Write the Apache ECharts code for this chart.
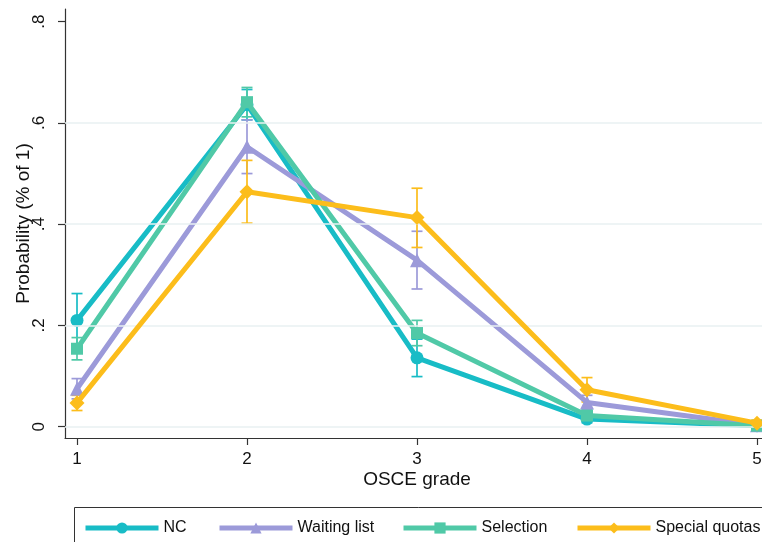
<!DOCTYPE html>
<html>
<head>
<meta charset="utf-8">
<script src="https://cdn.jsdelivr.net/npm/echarts@6/dist/echarts.min.js"></script>
<style>
html, body { margin: 0; padding: 0; background: #fff; }
#chart { width: 762px; height: 542px; }
</style>
</head>
<body>
<div id="chart"></div>
<script>
// OSCE grades on the x axis
const grades = [1, 2, 3, 4, 5]
const yTicks = [0, 0.2, 0.4, 0.6, 0.8]
const gridValues = [0, 0.2, 0.4, 0.6]

// predicted probabilities per group
const ncVals = [0.210, 0.636, 0.136, 0.015, 0.002]
const waitVals = [0.075, 0.553, 0.329, 0.048, 0.003]
const selVals = [0.154, 0.641, 0.185, 0.022, 0.002]
const specVals = [0.047, 0.464, 0.413, 0.073, 0.007]

// confidence intervals (lower / upper)
const ncLo = [0.157, 0.606, 0.099, 0.008, 0.000]
const ncHi = [0.263, 0.666, 0.173, 0.022, 0.004]
const waitLo = [0.055, 0.500, 0.272, 0.034, 0.000]
const waitHi = [0.095, 0.606, 0.386, 0.062, 0.006]
const selLo = [0.132, 0.612, 0.160, 0.014, 0.000]
const selHi = [0.176, 0.670, 0.210, 0.030, 0.004]
const specLo = [0.032, 0.402, 0.354, 0.049, 0.001]
const specHi = [0.062, 0.526, 0.471, 0.097, 0.013]

const groups = [
    { name: 'NC', vals: ncVals, lo: ncLo, hi: ncHi, color: '#18bcc6', symbol: 'circle', size: 13 },
    { name: 'Waiting list', vals: waitVals, lo: waitLo, hi: waitHi, color: '#9c9ad9', symbol: 'triangle', size: 14 },
    { name: 'Selection', vals: selVals, lo: selLo, hi: selHi, color: '#50c9a7', symbol: 'rect', size: 12 },
    { name: 'Special quotas', vals: specVals, lo: specLo, hi: specHi, color: '#fcbd1b', symbol: 'diamond', size: 15 },
]

const font = 'Liberation Sans, Arial, Helvetica, sans-serif'

const chart = echarts.init(document.getElementById('chart'))

// error bars drawn through the axis scales
const errorSeries = groups.map(g => ({
    type: 'custom',
    name: g.name + ' CI',
    z: 1,
    silent: true,
    data: grades.map((x, i) => [x, g.lo[i], g.hi[i]]),
    renderItem: (params, api) => {
        const top = api.coord([api.value(0), api.value(2)])
        const bot = api.coord([api.value(0), api.value(1)])
        const w = 5.5
        const style = { stroke: g.color, lineWidth: 1.7 }
        return {
            type: 'group',
            children: [
                { type: 'line', shape: { x1: top[0], y1: top[1], x2: bot[0], y2: bot[1] }, style },
                { type: 'line', shape: { x1: top[0] - w, y1: top[1], x2: top[0] + w, y2: top[1] }, style },
                { type: 'line', shape: { x1: bot[0] - w, y1: bot[1], x2: bot[0] + w, y2: bot[1] }, style },
            ]
        }
    }
}))

const lineSeries = groups.map((g, k) => ({
    type: 'line',
    name: g.name,
    z: 2 + k,
    data: grades.map((x, i) => [x, g.vals[i]]),
    symbol: g.symbol,
    symbolSize: g.size,
    showSymbol: true,
    itemStyle: { color: g.color },
    lineStyle: { color: g.color, width: 5 },
    emphasis: { disabled: true },
}))

// gridlines
const gridSeries = {
    type: 'line',
    name: 'grid',
    data: [],
    z: 0,
    silent: true,
    markLine: {
        silent: true,
        symbol: 'none',
        label: { show: false },
        lineStyle: { color: '#e9f0f2', width: 1.5, type: 'solid' },
        data: gridValues.map(v => ({ yAxis: v })),
    }
}

const legendLeft = [78, 212, 396, 570]
const legends = groups.map((g, i) => ({
    data: [g.name],
    left: legendLeft[i],
    top: 515,
    itemWidth: 73,
    itemHeight: 14,
    itemGap: 0,
    selectedMode: false,
    lineStyle: { width: 5 },
    textStyle: { fontFamily: font, fontSize: 16, color: '#111' },
}))

const option = {
    animation: false,
    backgroundColor: '#fff',
    grid: { left: 65, top: 9, width: 704, height: 429, outerBoundsMode: 'none', containLabel: false },
    legend: legends,
    xAxis: {
        type: 'value',
        min: 0.9294,
        max: 5.0706,
        name: 'OSCE grade',
        nameLocation: 'middle',
        nameGap: 32,
        nameMoveOverlap: false,
        nameTextStyle: { fontFamily: font, fontSize: 19, color: '#111' },
        axisLine: { show: true, onZero: false, lineStyle: { color: '#333', width: 1.2 } },
        axisTick: { show: true, length: 7, lineStyle: { color: '#333', width: 1.2 }, customValues: grades },
        axisLabel: { fontFamily: font, fontSize: 17, color: '#111', margin: 13, customValues: grades },
        splitLine: { show: false },
    },
    yAxis: {
        type: 'value',
        min: -0.0223,
        max: 0.825,
        name: 'Probability (% of 1)',
        nameLocation: 'middle',
        nameRotate: 90,
        nameGap: 32,
        nameMoveOverlap: false,
        nameTextStyle: { fontFamily: font, fontSize: 19, color: '#111' },
        axisLine: { show: true, onZero: false, lineStyle: { color: '#333', width: 1.2 } },
        axisTick: { show: true, length: 7, lineStyle: { color: '#333', width: 1.2 }, customValues: yTicks },
        axisLabel: {
            fontFamily: font, fontSize: 17, color: '#111', rotate: 90, margin: 17,
            customValues: yTicks,
            formatter: v => v === 0 ? '0' : String(+v.toFixed(1)).replace(/^0/, ''),
        },
        splitLine: { show: false },
    },
    graphic: [
        {
            type: 'rect',
            left: 72, top: 505,
            shape: { width: 720, height: 60 },
            style: { fill: 'none', stroke: '#333', lineWidth: 1 },
            z: -1,
        }
    ],
    series: [gridSeries, ...errorSeries, ...lineSeries],
}

chart.setOption(option)
window.addEventListener('resize', () => {
    chart.resize()
})
</script>
</body>
</html>
